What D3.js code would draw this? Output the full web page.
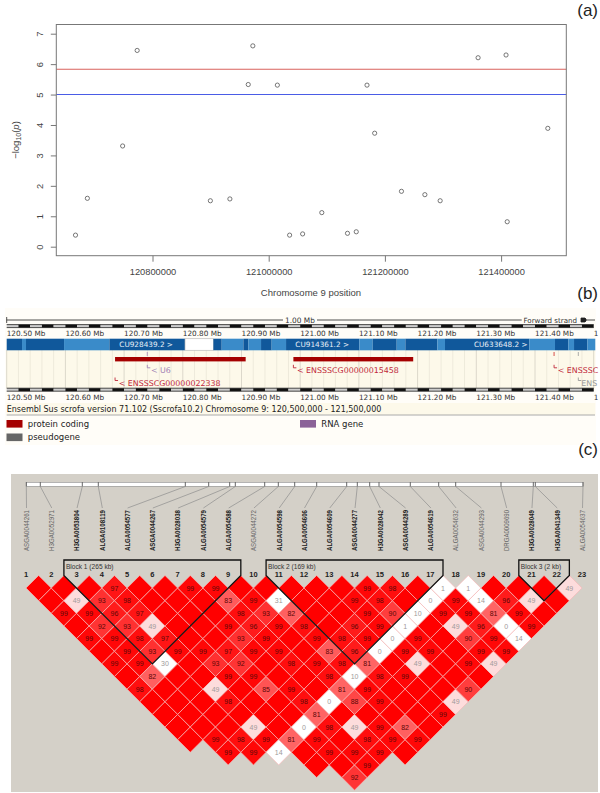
<!DOCTYPE html>
<html>
<head>
<meta charset="utf-8">
<script src="https://cdn.jsdelivr.net/npm/d3@7"></script>
<style>
  html, body { margin: 0; padding: 0; background: #fff; }
  svg { display: block; }
  text { font-family: "Liberation Sans", Arial, sans-serif; }
  .ens text { font-family: "DejaVu Sans", sans-serif; }
</style>
</head>
<body>
<script>
// (a) association plot
var snpPos = [120667480, 120687900, 120748600, 120773600, 120899600, 120933200, 120964800, 120972700,
  121014900, 121036000, 121058400, 121091400, 121135600, 121150700, 121169200, 121182400,
  121228500, 121268800, 121295100, 121360400, 121408500, 121410500, 121480400];
var snpLogP = [0.38, 1.59, 3.31, 6.45, 1.51, 1.57, 5.33, 6.60, 5.31, 0.38, 0.42, 1.12,
  0.44, 0.49, 5.31, 3.73, 1.82, 1.71, 1.51, 6.21, 6.30, 0.82, 3.89];
var xTicks = [120800000, 121000000, 121200000, 121400000];
var yTicks = [0, 1, 2, 3, 4, 5, 6, 7];
var thresholds = [{v: 5.83, c: "#d9625c"}, {v: 5, c: "#4a5ce6"}];

// (b) ensembl view, everything in Mb
var mbTicks = [120.5, 120.6, 120.7, 120.8, 120.9, 121.0, 121.1, 121.2, 121.3, 121.4];
var contigs = [
  [120.5, 120.5261, "d"], [120.5261, 120.5329, "l"], [120.5329, 120.5977, "d"], [120.5977, 120.6749, "l"],
  [120.6749, 120.8038, "d"], [120.8038, 120.8521, "w"], [120.8521, 120.8663, "d"], [120.8663, 120.9032, "l"],
  [120.9032, 120.9117, "d"], [120.9117, 120.9333, "l"], [120.9333, 120.9514, "d"], [120.9514, 120.9759, "l"],
  [120.9759, 121.1008, "d"], [121.1008, 121.1235, "l"], [121.1235, 121.1644, "d"], [121.1644, 121.1792, "l"],
  [121.1792, 121.2337, "d"], [121.2337, 121.2467, "l"], [121.2467, 121.3904, "d"], [121.3904, 121.4341, "l"],
  [121.4341, 121.4568, "d"], [121.4568, 121.4665, "l"], [121.4665, 121.4892, "d"], [121.4892, 121.5027, "l"]];
var contigLabels = [[120.6918, "CU928439.2 >"], [120.9917, "CU914361.2 >"], [121.296, "CU633648.2 >"]];
var geneBars = [[120.6846, 120.9071], [120.9884, 121.1925]];
// the last two names run off the image in the original, only this much of them shows
var geneLabels = [
  {at: 120.7395, row: 0, text: "< U6", color: "#a383b5"},
  {at: 120.6846, row: 1, text: "< ENSSSCG00000022338", color: "#c0283a"},
  {at: 120.9884, row: 0, text: "< ENSSSCG00000015458", color: "#c0283a"},
  {at: 121.4325, row: 0, text: "< ENSSSC", color: "#c0283a"},
  {at: 121.4738, row: 1, text: "ENS", color: "#999999"}];
var geneMarks = [[120.7395, "#a383b5"], [121.4325, "#cc2222"], [121.4738, "#999999"]];
var biotypes = [
  {name: "protein coding", color: "#a50000", x: 6.5, y: 420},
  {name: "pseudogene", color: "#666666", x: 6.5, y: 433.5},
  {name: "RNA gene", color: "#8b6298", x: 300, y: 420}];

// (c) LD plot
var markers = ["ASGA0044261", "H3GA0052971", "H3GA0053804", "ALGA0108119", "ALGA0054577", "ASGA0044267",
  "H3GA0028038", "ALGA0054579", "ALGA0054588", "ASGA0044272", "ALGA0054598", "ALGA0054606", "ALGA0054609",
  "ASGA0044277", "H3GA0028042", "ASGA0044289", "ALGA0054619", "ALGA0054632", "ASGA0044293", "DRGA0009690",
  "H3GA0028049", "H3GA0041349", "ALGA0054637"];
var rulerPos = [26.3, 40.3, 82.3, 98.3, 185.3, 208.7, 229.7, 235.3, 264.7, 278.3, 294.7, 316.7, 346.7,
  357.3, 369.7, 379, 410.3, 438.7, 455.7, 501, 533.3, 535.3, 583];
var blocks = [
  {from: 3, to: 9, label: "Block 1 (265 kb)"},
  {from: 11, to: 17, label: "Block 2 (169 kb)"},
  {from: 21, to: 22, label: "Block 3 (2 kb)"}];
// last marker paired with marker 1..8, the triangle is cut off below these
var lastPartner = [14, 16, 17, 18, 20, 22, 22, 22];
// [marker i, marker j, D'] for every cell with a number in it, the rest are 100
var dprime = [
  [4,5,97],[7,8,99],[8,9,99],[14,15,99],[15,16,98],[17,18,1],[18,19,1],[22,23,49],
  [2,4,49],[3,5,93],[4,6,98],[8,10,83],[9,11,99],[10,12,31],[13,15,99],[14,16,98],[16,18,0],[17,19,99],[18,20,14],[19,21,96],[20,22,49],
  [1,4,99],[2,5,99],[3,6,96],[4,7,97],[8,11,98],[9,12,93],[10,13,82],[13,16,99],[14,17,90],[15,18,10],[16,19,99],[17,20,99],[18,21,81],[19,22,99],
  [2,6,92],[3,7,93],[4,8,49],[7,11,99],[8,12,96],[9,13,99],[10,14,98],[12,16,96],[13,17,99],[14,18,1],[16,20,49],[17,21,96],[18,22,0],[19,23,99],
  [1,6,99],[2,7,99],[3,8,98],[4,9,97],[7,12,93],[8,13,99],[10,15,99],[11,16,98],[12,17,99],[13,18,0],[14,19,99],[16,21,90],[17,22,99],[18,23,14],
  [2,8,99],[3,9,93],[4,10,99],[5,11,99],[6,12,97],[7,13,99],[8,14,99],[10,16,83],[11,17,96],[12,18,0],[13,19,99],[14,20,99],[16,22,99],[17,23,99],
  [1,8,99],[2,9,99],[3,10,30],[5,12,93],[6,13,92],[8,15,98],[9,16,99],[10,17,98],[11,18,81],[13,20,49],[15,22,99],[16,23,49],
  [2,10,82],[5,13,99],[6,14,99],[9,17,98],[10,18,10],[11,19,98],[12,20,99],
  [1,10,98],[4,13,49],[6,15,85],[7,16,99],[9,18,81],[10,19,99],[14,23,90],
  [4,14,98],[7,17,98],[8,18,0],[9,19,88],[10,20,99],[13,23,49],
  [7,18,81],[12,23,99],
  [4,16,49],[6,18,0],[7,19,98],[8,20,49],[9,21,99],[10,22,82],
  [2,15,99],[3,16,98],[4,17,99],[5,18,81],[6,19,99],[8,21,98],[9,22,99],[10,23,99],
  [2,16,99],[3,17,99],[4,18,14],[6,20,99],[7,21,99],[8,22,99],
  [7,22,99],[6,22,92]];

var svg = d3.select("body").append("svg").attr("width", 600).attr("height", 793);

function drawAssociation() {
  var x = d3.scaleLinear().domain([120800000, 121400000]).range([152.5, 501.1]);
  var y = d3.scaleLinear().domain([0, 7]).range([246.7, 33.7]);
  var left = 56.3, right = 566.3, top = 24.5, bottom = 255.7;
  var g = svg.append("g");

  g.selectAll("line.thr").data(thresholds).join("line").attr("class", "thr")
    .attr("x1", left).attr("x2", right)
    .attr("y1", d => y(d.v)).attr("y2", d => y(d.v))
    .attr("stroke", d => d.c).attr("stroke-width", 1.1);

  g.append("rect").attr("x", left).attr("y", top).attr("width", right - left).attr("height", bottom - top)
    .attr("fill", "none").attr("stroke", "#777").attr("stroke-width", 1);

  var xAxis = g.append("g").attr("transform", "translate(0," + bottom + ")")
    .call(d3.axisBottom(x).tickValues(xTicks).tickFormat(d3.format("d")).tickSize(6).tickPadding(7));
  xAxis.select(".domain").remove();
  xAxis.selectAll("line").attr("stroke", "#777");
  xAxis.selectAll("text").attr("font-size", 9.3).attr("fill", "#444");

  var yAxis = g.append("g").attr("transform", "translate(" + left + ",0)")
    .call(d3.axisLeft(y).tickValues(yTicks).tickFormat(d3.format("d")).tickSize(5.5));
  yAxis.select(".domain").remove();
  yAxis.selectAll("line").attr("stroke", "#777");
  yAxis.selectAll("text")
    .attr("font-size", 9.3).attr("fill", "#444")
    .attr("x", 0).attr("dy", 0).attr("text-anchor", "middle")
    .attr("transform", d => "translate(-13.5,0) rotate(-90)");

  g.selectAll("circle").data(snpPos).join("circle")
    .attr("cx", d => x(d))
    .attr("cy", (d, i) => y(snpLogP[i]))
    .attr("r", 2.1)
    .attr("fill", "none").attr("stroke", "#555").attr("stroke-width", 0.8);

  g.append("text").attr("x", 311).attr("y", 296).attr("text-anchor", "middle")
    .attr("font-size", 9.5).attr("fill", "#444").text("Chromosome 9 position");

  var yTitle = g.append("text").attr("transform", "translate(19,140) rotate(-90)")
    .attr("text-anchor", "middle").attr("font-size", 9.5).attr("fill", "#444");
  yTitle.append("tspan").text("\u2212log");
  yTitle.append("tspan").attr("font-size", 7).attr("dy", 2).text("10");
  yTitle.append("tspan").attr("dy", -2).text("(");
  yTitle.append("tspan").attr("font-style", "italic").text("p");
  yTitle.append("tspan").text(")");
}

function drawScaleBar(g, mb, y) {
  var segs = d3.range(0, 50).map(i => 120.5 + i * 0.02);
  g.append("g").selectAll("rect").data(segs).join("rect")
    .attr("x", d => mb(d)).attr("y", y)
    .attr("width", mb(120.52) - mb(120.5)).attr("height", 3)
    .attr("fill", (d, i) => i % 2 ? "#111" : "#ccc");
  g.append("line").attr("x1", mb(120.5)).attr("x2", mb(121.5)).attr("y1", y).attr("y2", y)
    .attr("stroke", "#222").attr("stroke-width", 0.8);
  g.append("line").attr("x1", mb(120.5)).attr("x2", mb(121.5)).attr("y1", y + 3).attr("y2", y + 3)
    .attr("stroke", "#222").attr("stroke-width", 0.8);
}

function drawEnsembl() {
  var mb = d3.scaleLinear().domain([120.5, 121.5]).range([6.7, 593.7]);
  var g = svg.append("g").attr("class", "ens");
  var contigFill = {d: "#10589b", l: "#3a8bc9", w: "#ffffff"};

  g.append("rect").attr("x", 5).attr("y", 308).attr("width", 591).attr("height", 137).attr("fill", "#fffdf8");
  g.append("rect").attr("x", 6.7).attr("y", 350).attr("width", 588.5).attr("height", 38).attr("fill", "#fdf9ea");
  g.append("rect").attr("x", 6.7).attr("y", 403).attr("width", 588.5).attr("height", 12).attr("fill", "#fdf9ea");

  // pale vertical stripes behind the genes
  g.append("g").selectAll("line").data(d3.range(0, 51).map(i => 120.5 + i * 0.02)).join("line")
    .attr("x1", d => mb(d)).attr("x2", d => mb(d))
    .attr("y1", 350).attr("y2", 388)
    .attr("stroke", (d, i) => i % 5 ? "#eeeadb" : "#dcd8cb").attr("stroke-width", 1);

  // top ruler
  g.append("line").attr("x1", 6.7).attr("x2", 283).attr("y1", 320).attr("y2", 320).attr("stroke", "#222").attr("stroke-width", 0.8);
  g.append("line").attr("x1", 317).attr("x2", 521.7).attr("y1", 320).attr("y2", 320).attr("stroke", "#222").attr("stroke-width", 0.8);
  g.append("line").attr("x1", 6.7).attr("x2", 6.7).attr("y1", 317).attr("y2", 323).attr("stroke", "#222").attr("stroke-width", 0.8);
  g.append("text").attr("x", 300).attr("y", 322.7).attr("text-anchor", "middle").attr("font-size", 7.4).attr("fill", "#333").text("1.00 Mb");
  g.append("text").attr("x", 523.5).attr("y", 322.7).attr("font-size", 7.1).attr("fill", "#333").text("Forward strand");
  g.append("path").attr("d", "M581,318H585L586,319V321L585,322H581ZM586,320H595").attr("fill", "#222").attr("stroke", "#222").attr("stroke-width", 0.8);

  drawScaleBar(g, mb, 324.6);
  drawScaleBar(g, mb, 388.2);

  // the 121.50 label is cut by the image edge in the original, just its first digit
  [336.2, 400].forEach(function (yy) {
    g.append("g").selectAll("text").data(mbTicks).join("text")
      .attr("x", d => mb(d)).attr("y", yy)
      .attr("font-size", 7.3).attr("fill", "#333")
      .text(d => d.toFixed(2) + " Mb");
    g.append("text").attr("x", mb(121.5)).attr("y", yy).attr("font-size", 7.3).attr("fill", "#333").text("1");
  });

  g.selectAll("rect.contig").data(contigs).join("rect").attr("class", "contig")
    .attr("x", d => mb(d[0])).attr("y", 338.7)
    .attr("width", d => mb(d[1]) - mb(d[0])).attr("height", 11.6)
    .attr("fill", d => contigFill[d[2]])
    .attr("stroke", d => d[2] == "w" ? "#bbb" : "none").attr("stroke-width", 0.7);
  g.append("g").selectAll("text").data(contigLabels).join("text")
    .attr("x", d => mb(d[0])).attr("y", 347.2)
    .attr("font-size", 7.3).attr("fill", "#e8f0f8").text(d => d[1]);

  g.selectAll("rect.gene").data(geneBars).join("rect").attr("class", "gene")
    .attr("x", d => mb(d[0])).attr("y", 357)
    .attr("width", d => mb(d[1]) - mb(d[0])).attr("height", 4.4)
    .attr("fill", "#a50000");
  g.selectAll("line.mark").data(geneMarks).join("line").attr("class", "mark")
    .attr("x1", d => mb(d[0])).attr("x2", d => mb(d[0]))
    .attr("y1", 352).attr("y2", 356).attr("stroke", d => d[1]).attr("stroke-width", 0.8);

  var labels = g.append("g").selectAll("g").data(geneLabels).join("g")
    .attr("transform", d => "translate(" + mb(d.at) + "," + (d.row ? 377.5 : 364.8) + ")");
  labels.append("path").attr("d", "M0,0V3H3").attr("fill", "none")
    .attr("stroke", d => d.color).attr("stroke-width", 0.9);
  labels.append("text").attr("x", d => d.text[0] == "<" ? 3.6 : 3).attr("y", 8)
    .attr("font-size", 7.9).attr("fill", d => d.color).text(d => d.text);

  g.append("text").attr("x", 6.7).attr("y", 412).attr("font-size", 8).attr("fill", "#222")
    .text("Ensembl Sus scrofa version 71.102 (Sscrofa10.2) Chromosome 9: 120,500,000 - 121,500,000");
  g.append("line").attr("x1", 6.7).attr("x2", 595).attr("y1", 415).attr("y2", 415).attr("stroke", "#aaa").attr("stroke-width", 1);

  g.selectAll("rect.bio").data(biotypes).join("rect").attr("class", "bio")
    .attr("x", d => d.x).attr("y", d => d.y).attr("width", 16).attr("height", 7.6).attr("fill", d => d.color);
  g.append("g").selectAll("text").data(biotypes).join("text")
    .attr("x", d => d.x + 21.3).attr("y", d => d.y + 6.7)
    .attr("font-size", 8.5).attr("fill", "#222").text(d => d.name);
}

function drawLD() {
  var xm = d3.scaleLinear().domain([1, 23]).range([26, 582]);
  var step = xm(2) - xm(1);          // marker spacing, cells are as wide as this
  var half = step / 2;
  var top = 575.4;                   // y of the tips of the first row
  var rowY = d => top + d * half;    // d = j - i
  var shade = d3.scaleLinear().domain([49, 81, 93, 100]).range(["#fddcdc", "#ff6464", "#ff3030", "#ff0000"]);
  var inBlock = i => blocks.some(b => i >= b.from && i <= b.to);

  var g = svg.append("g");
  g.append("rect").attr("x", 11).attr("y", 474).attr("width", 587).attr("height", 318).attr("fill", "#d4d0c8");

  // physical map at the top
  g.append("rect").attr("x", rulerPos[0]).attr("y", 482.3).attr("width", rulerPos[22] - rulerPos[0]).attr("height", 4)
    .attr("fill", "#fff").attr("stroke", "#8a8a8a").attr("stroke-width", 0.6);
  g.selectAll("line.pos").data(rulerPos).join("line").attr("class", "pos")
    .attr("x1", d => d).attr("x2", d => d).attr("y1", 482).attr("y2", 486.5)
    .attr("stroke", "#666").attr("stroke-width", 1);
  g.selectAll("line.link").data(rulerPos).join("line").attr("class", "link")
    .attr("x1", d => d).attr("y1", 486.5)
    .attr("x2", (d, i) => xm(i + 1) + 0.5).attr("y2", 508)
    .attr("stroke", "#8e8e8e").attr("stroke-width", 0.7);

  g.selectAll("text.name").data(markers).join("text").attr("class", "name")
    .attr("transform", (d, i) => "translate(" + (xm(i + 1) + 2.8) + ",551) rotate(-90)")
    .attr("font-size", 7.4)
    .attr("textLength", 41).attr("lengthAdjust", "spacingAndGlyphs")
    .attr("font-weight", (d, i) => inBlock(i + 1) ? "bold" : "normal")
    .attr("fill", (d, i) => inBlock(i + 1) ? "#222" : "#666")
    .text(d => d);

  g.selectAll("text.num").data(markers).join("text").attr("class", "num")
    .attr("x", (d, i) => xm(i + 1)).attr("y", 577)
    .attr("text-anchor", "middle").attr("font-size", 7.5).attr("font-weight", "bold").attr("fill", "#222")
    .text((d, i) => i + 1);

  // cells, built from the marker pairs
  var lookup = new Map(dprime.map(c => [c[0] + "-" + c[1], c[2]]));
  var cells = [];
  markers.forEach(function (m, a) {
    var i = a + 1;
    var last = i <= lastPartner.length ? lastPartner[a] : markers.length;
    for (var j = i + 1; j <= last; j++) {
      var v = lookup.get(i + "-" + j);
      cells.push({i: i, j: j, value: v === undefined ? 100 : v, label: v !== undefined});
    }
  });

  var cell = g.selectAll("g.cell").data(cells).join("g").attr("class", "cell")
    .attr("transform", d => "translate(" + xm((d.i + d.j) / 2) + "," + rowY(d.j - d.i) + ")");
  cell.append("path")
    .attr("d", "M0," + (-half) + "L" + half + ",0L0," + half + "L" + (-half) + ",0Z")
    .attr("fill", d => d.value < 49 ? "#ffffff" : shade(d.value))
    .attr("stroke", "#f7b8b8").attr("stroke-width", 0.7);
  cell.filter(d => d.label).append("text")
    .attr("y", 2.6).attr("text-anchor", "middle").attr("font-size", 7)
    .attr("fill", d => d.value < 50 ? "#a09a9a" : "#5a0808")
    .text(d => d.value);

  // block outlines
  g.selectAll("path.block").data(blocks).join("path").attr("class", "block")
    .attr("d", function (b) {
      var l = xm(b.from) - half, r = xm(b.to) + half;
      var apexY = rowY(b.to - b.from) + half;
      return "M" + xm((b.from + b.to) / 2) + "," + apexY + "L" + l + "," + top
        + "V560H" + r + "V" + top + "Z";
    })
    .attr("fill", "none").attr("stroke", "#111").attr("stroke-width", 1.3);
  g.selectAll("text.blockname").data(blocks).join("text").attr("class", "blockname")
    .attr("x", b => xm(b.from) - half + 2).attr("y", 568.5)
    .attr("font-size", 6.6).attr("fill", "#333").text(b => b.label);
}

drawAssociation();
drawEnsembl();
drawLD();

// panel letters
var panelLetters = [["(a)", 10], ["(b)", 293], ["(c)", 449]];
svg.selectAll("text.panel").data(panelLetters).join("text").attr("class", "panel")
  .attr("x", 598).attr("y", d => d[1] + 6).attr("text-anchor", "end")
  .attr("font-size", 17).attr("fill", "#222").text(d => d[0]);
</script>
</body>
</html>
